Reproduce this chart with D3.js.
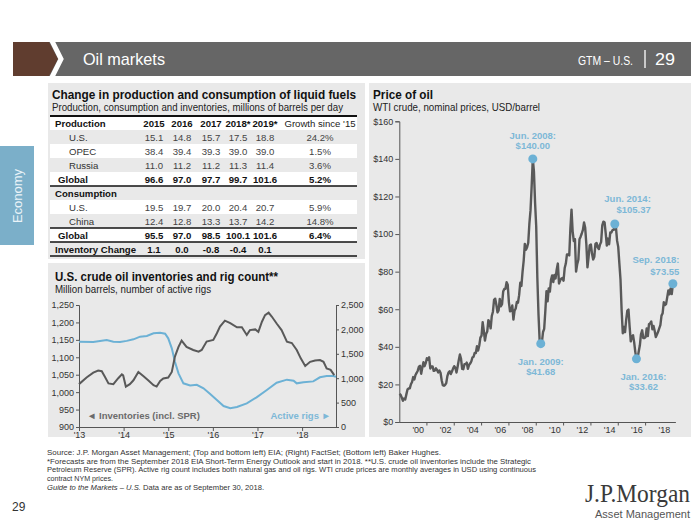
<!DOCTYPE html>
<html><head><meta charset="utf-8">
<script src="https://cdn.jsdelivr.net/npm/d3@7"></script>
<style>body{margin:0;background:#fff}svg{display:block}</style>
</head><body><svg id="c" width="700" height="525"></svg>
<script>
// ---------- DATA ----------
const tableHeader = ["Production", "2015", "2016", "2017", "2018*", "2019*", "Growth since '15"];
const rowLabels = ["U.S.", "OPEC", "Russia", "Global", "Consumption", "U.S.", "China", "Global", "Inventory Change"];
const rowValues = [
  [15.1, 14.8, 15.7, 17.5, 18.8],
  [38.4, 39.4, 39.3, 39.0, 39.0],
  [11.0, 11.2, 11.2, 11.3, 11.4],
  [96.6, 97.0, 97.7, 99.7, 101.6],
  [],
  [19.5, 19.7, 20.0, 20.4, 20.7],
  [12.4, 12.8, 13.3, 13.7, 14.2],
  [95.5, 97.0, 98.5, 100.1, 101.6],
  [1.1, 0.0, -0.8, -0.4, 0.1]
];
const rowGrowth = ["24.2%", "1.5%", "3.6%", "5.2%", "", "5.9%", "14.8%", "6.4%", ""];

// Inventories (million barrels), decimal year
const invYears = [2013.00,2013.17,2013.32,2013.43,2013.51,2013.58,2013.66,2013.77,2013.88,2013.96,2013.99,2014.05,2014.14,2014.22,2014.33,2014.44,2014.55,2014.67,2014.74,2014.82,2014.89,2015.00,2015.08,2015.15,2015.23,2015.30,2015.41,2015.56,2015.68,2015.75,2015.86,2016.01,2016.09,2016.16,2016.27,2016.39,2016.54,2016.65,2016.76,2016.83,2016.95,2017.02,2017.10,2017.17,2017.25,2017.32,2017.43,2017.54,2017.66,2017.77,2017.88,2017.97,2018.07,2018.18,2018.29,2018.40,2018.48,2018.55,2018.64,2018.72];
const invValues = [1023,1042,1056,1062,1060,1044,1025,1023,1040,1051,1048,1016,1023,1034,1058,1046,1034,1020,1016,1032,1039,1042,1058,1102,1130,1148,1130,1121,1116,1121,1145,1150,1169,1188,1205,1198,1186,1186,1164,1178,1180,1173,1202,1221,1228,1217,1197,1178,1145,1141,1121,1097,1075,1087,1091,1092,1087,1068,1064,1049];

// Active rigs (count), decimal year
const rigYears = [2013.00,2013.32,2013.62,2013.77,2013.92,2014.07,2014.22,2014.37,2014.52,2014.67,2014.82,2014.93,2015.00,2015.08,2015.15,2015.23,2015.34,2015.49,2015.64,2015.79,2015.94,2016.09,2016.24,2016.39,2016.54,2016.76,2016.98,2017.21,2017.43,2017.66,2017.81,2017.88,2018.03,2018.25,2018.40,2018.55,2018.70,2018.76];
const rigValues = [1748,1740,1783,1748,1740,1765,1797,1851,1865,1920,1933,1911,1817,1612,1338,1100,895,850,865,793,676,553,430,383,410,485,608,758,908,970,950,895,915,935,1018,1045,1045,1030];

// WTI monthly average price, USD/barrel, Sep 1998 – Sep 2018
const oilStart = [1998, 9];
const oilPrices = [
  15.0,14.4,12.9,11.3,
  12.5,12.0,14.7,17.3,17.8,17.9,20.1,21.3,23.9,22.6,25.0,26.1,
  27.3,29.4,29.9,25.7,28.8,31.8,29.7,31.3,33.9,33.1,34.4,28.5,
  29.6,29.6,27.2,27.4,28.6,27.6,26.4,27.4,26.2,22.2,19.6,19.3,
  19.7,20.7,24.4,26.3,27.0,25.5,26.9,28.4,29.7,28.9,26.3,29.4,
  32.9,35.9,33.6,28.3,28.1,30.7,30.8,31.6,28.3,30.3,31.1,32.2,
  34.3,34.7,36.8,36.7,40.3,38.0,40.7,44.9,46.0,53.1,48.5,43.3,
  46.8,48.1,54.2,53.0,49.8,56.4,58.7,65.0,65.6,62.4,58.3,59.4,
  65.5,61.6,62.7,69.4,70.8,70.9,74.4,73.0,63.8,58.9,59.1,62.0,
  54.5,59.3,60.4,63.9,63.5,67.5,74.1,72.4,79.9,85.8,94.8,91.7,
  93.0,95.4,105.5,112.6,125.4,140.0,133.4,116.7,104.1,76.6,57.3,43.5,
  41.68,42.5,47.9,49.6,59.0,69.6,64.2,71.1,69.4,75.7,78.0,74.5,
  78.3,76.4,81.2,84.3,73.7,75.3,76.3,76.6,75.2,81.9,84.3,89.2,
  89.2,88.6,102.9,113.0,101.3,96.3,97.3,80.0,84.0,86.3,97.2,98.6,
  100.3,102.2,106.2,103.3,94.7,82.3,87.9,94.1,94.5,89.5,86.5,87.9,
  94.8,95.3,92.9,92.0,94.5,95.8,104.6,106.6,106.3,100.5,93.9,97.6,
  94.6,100.8,100.8,102.1,102.2,105.37,103.6,96.5,93.2,84.4,75.8,59.3,
  47.2,50.6,47.8,54.5,59.3,59.8,50.9,42.9,45.5,46.2,42.4,37.2,
  33.62,34.0,37.5,40.8,46.7,48.8,44.7,44.7,45.2,49.8,45.7,52.0,
  52.5,53.5,49.3,51.1,48.5,45.2,46.6,48.0,49.8,51.6,56.6,57.9,
  63.7,62.2,62.7,66.3,70.0,67.9,71.0,68.1,73.55
];
const oilYearTicks = [2000,2002,2004,2006,2008,2010,2012,2014,2016,2018];
const oilAnnotLabels = ["Jun. 2008:", "Jan. 2009:", "Jun. 2014:", "Jan. 2016:", "Sep. 2018:"];
const oilAnnotDates = [[2008,6],[2009,1],[2014,6],[2016,1],[2018,9]];

const footerLines = [
  "Source: J.P. Morgan Asset Management; (Top and bottom left) EIA; (Right) FactSet; (Bottom left) Baker Hughes.",
  "*Forecasts are from the September 2018 EIA Short-Term Energy Outlook and start in 2018. **U.S. crude oil inventories include the Strategic",
  "Petroleum Reserve (SPR). Active rig count includes both natural gas and oil rigs. WTI crude prices are monthly averages in USD using continuous",
  "contract NYM prices."
];

// ---------- DRAW ----------
const SANS = '"Liberation Sans", Arial, sans-serif';
const NARROW = '"Liberation Sans Narrow", "Arial Narrow", "Liberation Sans", sans-serif';
const SERIF = '"Liberation Serif", "Times New Roman", serif';
const svg = d3.select("#c").style("font-family", SANS);
const BLUE = "#6cb1d5", BLUET = "#7db8d7", DARK = "#595959";

function txt(g, x, y, s, o = {}) {
  const t = g.append("text").attr("x", x).attr("y", y).text(s)
    .attr("font-size", o.size || 9.6).attr("fill", o.fill || "#222")
    .attr("font-weight", o.bold ? "bold" : "normal")
    .attr("text-anchor", o.anchor || "start");
  if (o.family) t.attr("font-family", o.family);
  if (o.len) t.attr("textLength", o.len).attr("lengthAdjust", "spacingAndGlyphs");
  return t;
}

// Header
svg.append("rect").attr("x", 13).attr("y", 42).attr("width", 678).attr("height", 34).attr("fill", "#666666");
svg.append("polygon").attr("points", "13,42 49,42 58,59 49,76 13,76").attr("fill", "#603d2f");
svg.append("polyline").attr("points", "51,39 61,59 51,79").attr("fill", "none").attr("stroke", "#fff").attr("stroke-width", 5);
txt(svg, 83, 65, "Oil markets", {size: 17, fill: "#fff", family: NARROW, len: 82});
txt(svg, 578, 65, "GTM – U.S.", {size: 13.5, fill: "#fff", family: NARROW, len: 55});
svg.append("line").attr("x1", 645).attr("x2", 645).attr("y1", 50).attr("y2", 68).attr("stroke", "#fff").attr("stroke-width", 1.3);
txt(svg, 655, 65, "29", {size: 17, fill: "#fff", family: NARROW, len: 20});

// Sidebar
svg.append("rect").attr("x", 0).attr("y", 146).attr("width", 34).attr("height", 99).attr("fill", "#7bafc9");
svg.append("text").attr("transform", "translate(22,196) rotate(-90)").attr("text-anchor", "middle")
  .attr("font-size", 13).attr("fill", "#eaf3f8").text("Economy");

// Panels
svg.append("rect").attr("x", 48).attr("y", 83).attr("width", 317).attr("height", 176).attr("fill", "#e9e9e9");
svg.append("rect").attr("x", 48).attr("y", 263).attr("width", 317).attr("height", 174).attr("fill", "#e9e9e9");
svg.append("rect").attr("x", 369).attr("y", 83).attr("width", 322).attr("height", 354).attr("fill", "#e9e9e9");

// ----- Table -----
const tg = svg.append("g");
txt(tg, 52, 99, "Change in production and consumption of liquid fuels", {size: 12.5, bold: true, fill: "#111", len: 304});
txt(tg, 52, 111, "Production, consumption and inventories, millions of barrels per day", {size: 10.3, fill: "#222", len: 291});
const rowH = 14, tTop = 116, tX0 = 50, tX1 = 357;
const colX = [154, 182, 211, 238, 265], growthX = 320;
for (let i = 0; i <= rowLabels.length; i++) {
  if (i % 2 === 0) tg.append("rect").attr("x", tX0).attr("y", tTop + i * rowH).attr("width", tX1 - tX0).attr("height", rowH).attr("fill", "#fff");
}
const cy = i => tTop + i * rowH + 10.5;
txt(tg, 55, cy(0), tableHeader[0], {bold: true, fill: "#111"});
colX.forEach((x, j) => txt(tg, x, cy(0), tableHeader[j + 1], {bold: true, anchor: "middle", fill: "#111"}));
txt(tg, growthX, cy(0), tableHeader[6], {anchor: "middle", fill: "#222"});
const boldRows = new Set([3, 4, 7, 8]);
rowLabels.forEach((lab, i) => {
  const y = cy(i + 1), b = boldRows.has(i);
  const lx = (i === 4 || i === 8) ? 55 : (b ? 58 : 69);
  txt(tg, lx, y, lab, {bold: b, fill: b ? "#111" : "#333"});
  rowValues[i].forEach((v, j) => txt(tg, colX[j], y, v.toFixed(1), {bold: b, anchor: "middle", fill: b ? "#111" : "#444"}));
  if (rowGrowth[i]) txt(tg, growthX, y, rowGrowth[i], {bold: b, anchor: "middle", fill: b ? "#111" : "#444"});
});
[[tTop, 2], [tTop + 5 * rowH, 1.5], [tTop + 8 * rowH, 1.5], [tTop + 9 * rowH, 1.5], [tTop + 10 * rowH, 1.5]].forEach(([y, w]) =>
  tg.append("line").attr("x1", tX0).attr("x2", tX1).attr("y1", y).attr("y2", y).attr("stroke", "#111").attr("stroke-width", w));

// ----- Inventories & rigs -----
const bg = svg.append("g");
txt(bg, 55, 281, "U.S. crude oil inventories and rig count**", {size: 12.5, bold: true, fill: "#111", len: 223});
txt(bg, 55, 293, "Million barrels, number of active rigs", {size: 10.3, fill: "#222", len: 156});
const xI = d3.scaleLinear().domain([2013, 2018.76]).range([79, 336]);
const yInv = d3.scaleLinear().domain([900, 1250]).range([427, 305]);
const yRig = d3.scaleLinear().domain([0, 2500]).range([427, 305]);
function styleAxis(g) {
  g.selectAll(".domain").attr("stroke", "#555");
  g.selectAll(".tick line").attr("stroke", "#555");
  g.selectAll("text").attr("font-size", 9).attr("fill", "#333").attr("font-family", SANS);
}
bg.append("g").attr("transform", "translate(79,0)")
  .call(d3.axisLeft(yInv).tickValues(d3.range(900, 1251, 50)).tickSize(3).tickPadding(2).tickFormat(d3.format(",")))
  .call(styleAxis);
bg.append("g").attr("transform", "translate(336,0)")
  .call(d3.axisRight(yRig).tickValues(d3.range(0, 2501, 500)).tickSize(3).tickPadding(2).tickFormat(d3.format(",")))
  .call(styleAxis);
bg.append("g").attr("transform", "translate(0,427)")
  .call(d3.axisBottom(xI).tickValues([2013, 2014, 2015, 2016, 2017, 2018]).tickSize(4).tickSizeOuter(0).tickPadding(1)
    .tickFormat(d => "'" + String(d).slice(2)))
  .call(styleAxis);
const invData = invYears.map((y, i) => [y, invValues[i]]);
const rigData = rigYears.map((y, i) => [y, rigValues[i]]);
bg.append("path").datum(rigData).attr("fill", "none").attr("stroke", BLUE).attr("stroke-width", 2)
  .attr("d", d3.line().x(d => xI(d[0])).y(d => yRig(d[1])));
bg.append("path").datum(invData).attr("fill", "none").attr("stroke", DARK).attr("stroke-width", 2)
  .attr("d", d3.line().x(d => xI(d[0])).y(d => yInv(d[1])));
txt(bg, 87, 419, "◄ Inventories (incl. SPR)", {size: 9.5, bold: true, fill: "#6b6b6b"});
txt(bg, 331, 419, "Active rigs ►", {size: 9.5, bold: true, fill: BLUET, anchor: "end"});

// ----- Price of oil -----
const rg = svg.append("g");
txt(rg, 373, 99, "Price of oil", {size: 12.5, bold: true, fill: "#111", len: 60});
txt(rg, 373, 111, "WTI crude, nominal prices, USD/barrel", {size: 10.3, fill: "#222", len: 167});
const xO = d3.scaleLinear().domain([1998.65, 2018.85]).range([399.3, 675.4]);
const yO = d3.scaleLinear().domain([0, 160]).range([422, 121.3]);
const dec = (y, m) => y + (m - 1) / 12;
rg.append("g").attr("transform", "translate(399.3,0)")
  .call(d3.axisLeft(yO).tickValues(d3.range(0, 161, 20)).tickSize(4).tickPadding(2).tickFormat(d => "$" + d))
  .call(styleAxis);
rg.append("g").attr("transform", "translate(0,422)")
  .call(d3.axisBottom(xO).tickValues(oilYearTicks).tickSize(0).tickSizeOuter(0).tickPadding(5)
    .tickFormat(d => "'" + String(d).slice(2)))
  .call(styleAxis);
rg.append("g").selectAll("line").data(oilYearTicks.slice(0, -1)).join("line")
  .attr("x1", d => xO(d + 0.67)).attr("x2", d => xO(d + 0.67)).attr("y1", 422).attr("y2", 425.5).attr("stroke", "#555");
const oilData = oilPrices.map((p, i) => {
  const m = oilStart[1] - 1 + i;
  return [dec(oilStart[0] + Math.floor(m / 12), (m % 12) + 1), p];
});
rg.append("path").datum(oilData).attr("fill", "none").attr("stroke", DARK).attr("stroke-width", 2.4)
  .attr("stroke-linejoin", "round").attr("d", d3.line().x(d => xO(d[0])).y(d => yO(d[1])));
const annotOffsets = [
  {dx: 0, dy: [-20, -10], anchor: "middle"},
  {dx: 0, dy: [21.5, 31.5], anchor: "middle"},
  {dx: 36, dy: [-22, -11], anchor: "end"},
  {dx: 7, dy: [21, 31], anchor: "middle"},
  {dx: 6.5, dy: [-20.5, -9], anchor: "end"}
];
oilAnnotDates.forEach(([yy, mm], k) => {
  const t = dec(yy, mm);
  const pt = oilData.find(d => Math.abs(d[0] - t) < 1e-6);
  const x = xO(pt[0]), y = yO(pt[1]), o = annotOffsets[k];
  rg.append("circle").attr("cx", x).attr("cy", y).attr("r", 4.5).attr("fill", BLUE);
  txt(rg, x + o.dx, y + o.dy[0], oilAnnotLabels[k], {size: 9.5, bold: true, fill: BLUET, anchor: o.anchor});
  txt(rg, x + o.dx, y + o.dy[1], "$" + pt[1].toFixed(2), {size: 9.5, bold: true, fill: BLUET, anchor: o.anchor});
});

// ----- Footer -----
const fg = svg.append("g");
const fLens = [394, 484, 489, 66];
footerLines.forEach((s, i) => txt(fg, 47, 455 + i * 8.7, s, {size: 7.6, fill: "#333", family: NARROW, len: fLens[i]}));
const l5 = fg.append("text").attr("x", 47).attr("y", 455 + 4 * 8.7).attr("font-size", 7.6).attr("fill", "#333")
  .attr("font-family", NARROW).attr("textLength", 217).attr("lengthAdjust", "spacingAndGlyphs");
l5.append("tspan").attr("font-style", "italic").text("Guide to the Markets – U.S.");
l5.append("tspan").text(" Data are as of September 30, 2018.");
txt(fg, 12, 511, "29", {size: 12, fill: "#333"});
txt(fg, 690, 502, "J.P.Morgan", {size: 25, fill: "#3a3a3a", family: SERIF, anchor: "end", len: 105});
txt(fg, 690, 518, "Asset Management", {size: 11, fill: "#555", family: NARROW, anchor: "end", len: 95});
</script></body></html>
